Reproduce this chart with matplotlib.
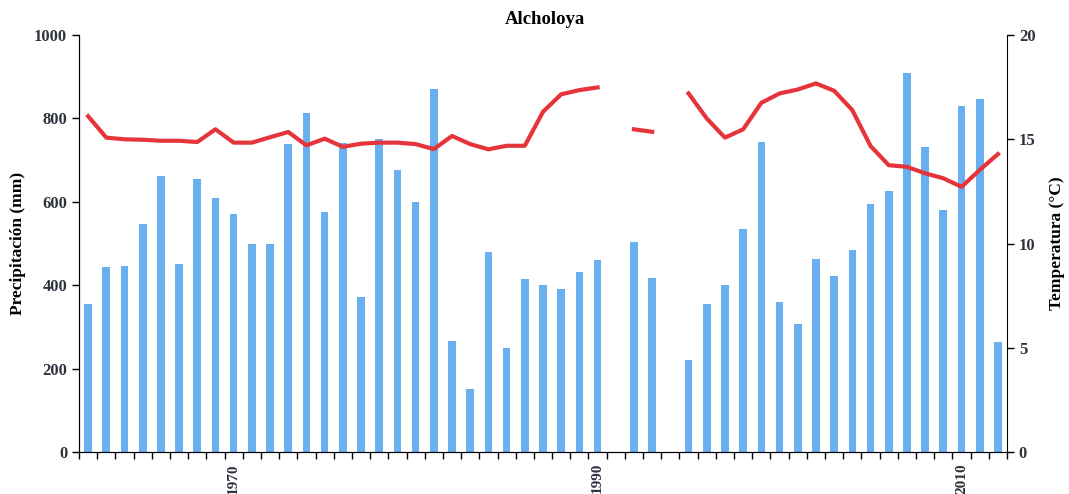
import numpy as np
import matplotlib.pyplot as plt

# ---------- datos anuales ----------
years = list(range(1962, 2013))

precip_mm = [355, 444, 446, 546, 662, 450, 654, 610, 572, 500,
             500, 739, 814, 576, 742, 372, 751, 676, 600, 870,
             267, 150, 480, 250, 416, 400, 391, 431, 460, np.nan,
             504, 418, np.nan, 220, 356, 400, 534, 744, 360, 307,
             462, 422, 484, 596, 627, 910, 731, 580, 830, 846,
             265]

temp_c = [16.11, 15.08, 15.00, 14.98, 14.93, 14.93, 14.87, 15.48, 14.84, 14.84,
          15.10, 15.35, 14.71, 15.03, 14.64, 14.79, 14.84, 14.84, 14.77, 14.53,
          15.16, 14.77, 14.52, 14.69, 14.69, 16.32, 17.16, 17.36, 17.49, np.nan,
          15.48, 15.36, np.nan, 17.20, 16.00, 15.08, 15.48, 16.75, 17.20, 17.39,
          17.68, 17.33, 16.40, 14.68, 13.76, 13.68, 13.37, 13.13, 12.72, 13.53,
          14.29]

year_labels = [1970, 1990, 2010]

plt.rcParams['font.family'] = ['Liberation Serif', 'DejaVu Serif']
plt.rcParams['font.weight'] = 'bold'

BAR_COLOR = '#6aaff0'
LINE_COLOR = '#e5353a'
TXT_COLOR = '#2f3340'

fig = plt.figure(figsize=(10.69, 4.94), dpi=100)
ax = fig.add_axes([0.0739, 0.085, 0.8681, 0.844])

x = np.arange(len(years))
ax.bar(x, precip_mm, width=0.42, color=BAR_COLOR, zorder=2)

ax.set_xlim(-0.5, len(years) - 0.5)
ax.set_ylim(0, 1000)
ax.set_yticks(range(0, 1001, 200))
ax.set_ylabel('Precipitación (mm)', fontsize=12.5, fontweight='bold', labelpad=6)

# marcas entre categorías, etiquetas centradas en el año
ax.set_xticks(np.arange(-0.5, len(years)), minor=True)
ax.set_xticks([years.index(y) for y in year_labels])
ax.set_xticklabels([str(y) for y in year_labels], rotation=90,
                   fontsize=11, fontweight='bold', color=TXT_COLOR)
ax.tick_params(axis='x', which='major', length=0, pad=8)
ax.tick_params(axis='x', which='minor', length=5, width=1, direction='out')
ax.tick_params(axis='y', length=5, width=1, labelsize=12, labelcolor=TXT_COLOR)
for lab in ax.get_yticklabels():
    lab.set_fontweight('bold')

ax.spines['top'].set_visible(False)
ax.spines['right'].set_visible(False)

# temperatura en eje derecho
ax2 = ax.twinx()
ax2.plot(x, temp_c, color=LINE_COLOR, lw=3, zorder=3)
ax2.set_ylim(0, 20)
ax2.set_yticks(range(0, 21, 5))
ax2.tick_params(axis='y', length=5, width=1, labelsize=12, labelcolor=TXT_COLOR)
for lab in ax2.get_yticklabels():
    lab.set_fontweight('bold')
ax2.set_ylabel('Temperatura (°C)', fontsize=12.5, fontweight='bold', labelpad=10)
ax2.spines['top'].set_visible(False)

fig.text(0.51, 0.96, 'Alcholoya', ha='center', va='center',
         fontsize=13.5, fontweight='bold')

fig.savefig('out.png', dpi=100)
